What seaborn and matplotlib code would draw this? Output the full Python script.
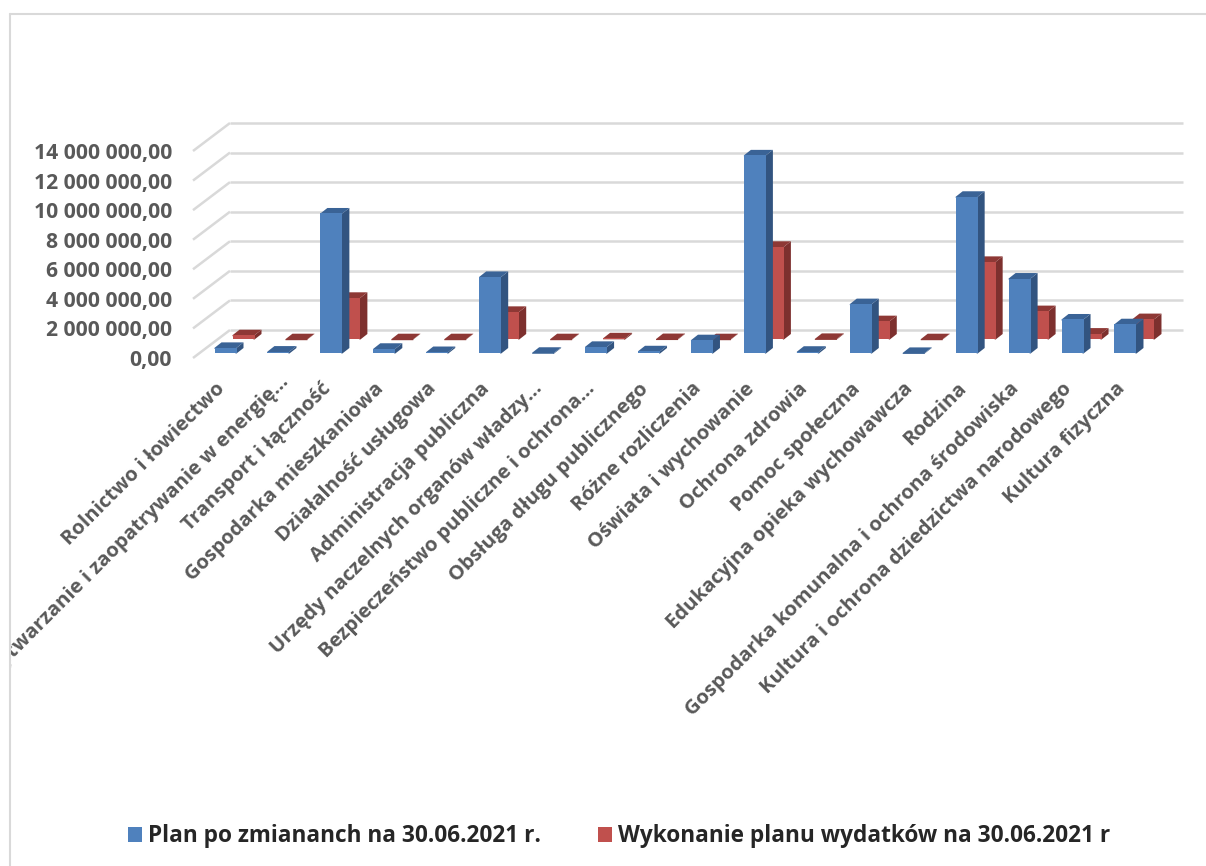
import numpy as np
import pandas as pd
import matplotlib
matplotlib.use("Agg")
import matplotlib.pyplot as plt
from matplotlib.lines import Line2D
from matplotlib.patches import Patch, Polygon
from matplotlib.transforms import Bbox, ScaledTranslation
import seaborn as sns

categories = [
    "Rolnictwo i łowiectwo",
    "Wytwarzanie i zaopatrywanie w energię…",
    "Transport i łączność",
    "Gospodarka mieszkaniowa",
    "Działalność usługowa",
    "Administracja publiczna",
    "Urzędy naczelnych organów władzy…",
    "Bezpieczeństwo publiczne i ochrona…",
    "Obsługa długu publicznego",
    "Różne rozliczenia",
    "Oświata i wychowanie",
    "Ochrona zdrowia",
    "Pomoc społeczna",
    "Edukacyjna opieka wychowawcza",
    "Rodzina",
    "Gospodarka komunalna i ochrona środowiska",
    "Kultura i ochrona dziedzictwa narodowego",
    "Kultura fizyczna",
]
plan = [380000, 130000, 9470000, 320000, 100000, 5180000, 50000, 450000, 150000,
        900000, 13400000, 120000, 3340000, 40000, 10600000, 5070000, 2300000, 1980000]
wykonanie = [290000, 20000, 2820000, 20000, 20000, 1870000, 20000, 80000, 30000,
             20000, 6270000, 40000, 1240000, 20000, 5250000, 1920000, 400000, 1380000]
series_names = ["Plan po zmiananch na 30.06.2021 r.",
                "Wykonanie planu wydatków na 30.06.2021 r"]
tick_values = [0, 2000000, 4000000, 6000000, 8000000, 10000000, 12000000, 14000000]
tick_labels = ["0,00", "2 000 000,00", "4 000 000,00", "6 000 000,00", "8 000 000,00",
               "10 000 000,00", "12 000 000,00", "14 000 000,00"]

W, H = 1206, 866
PX_X = 52.94            # pixels per category
PX_Y = 29.57 / 2e6      # pixels per value unit
sns.set_theme(style="white")
plt.rcParams["font.family"] = ["Open Sans", "DejaVu Sans"]

fig = plt.figure(figsize=(W / 100, H / 100), dpi=100, facecolor="white")
L, R, T, B = 193, 1183, 123, 358
ax = fig.add_axes([L / W, 1 - B / H, (R - L) / W, (B - T) / H])
ax.patch.set_alpha(0)

pos = np.arange(len(categories), dtype=float)
first_center = 225.5
red_shift = 18 / PX_X
blue_base = 4.5 / PX_Y
red_base = 18.5 / PX_Y
bar_w = 22 / PX_X
dx_bar, dy_bar = 7 / PX_X, 5.5 / PX_Y
dx_wall, dy_wall = 37 / PX_X, 28 / PX_Y
seam_x, seam_y = 1 / PX_X, 1 / PX_Y

x0 = (L - first_center) / PX_X
x1 = (R - first_center) / PX_X

df = pd.DataFrame({"x": pos, "plan": plan, "wyk": wykonanie})
df["x_red"] = df["x"] + red_shift


def extrude(patches, side, top, z):
    for k, p in enumerate(patches):
        xa, xb = p.get_x(), p.get_x() + p.get_width()
        ya, yb = p.get_y(), p.get_y() + p.get_height()
        base = z + k * 0.01
        p.set_zorder(base + 0.002)
        # side and top run slightly under the front face so no seam shows
        ax.add_patch(Polygon([(xb - seam_x, ya), (xb, ya), (xb + dx_bar, ya + dy_bar),
                              (xb + dx_bar, yb + dy_bar), (xb, yb), (xb - seam_x, yb)],
                             closed=True, fc=side, ec="none", zorder=base))
        ax.add_patch(Polygon([(xa, yb - seam_y), (xb, yb - seam_y), (xb, yb), (xb + dx_bar, yb + dy_bar),
                              (xa + dx_bar, yb + dy_bar), (xa, yb)],
                             closed=True, fc=top, ec="none", zorder=base + 0.001))


n0 = len(ax.patches)
sns.barplot(data=df, x="x_red", y="wyk", native_scale=True, width=bar_w, color="#C0504D",
            saturation=1, bottom=red_base, linewidth=0, ax=ax)
red_patches = list(ax.patches[n0:])
extrude(red_patches, "#7D302E", "#8E3835", 2)

n0 = len(ax.patches)
sns.barplot(data=df, x="x", y="plan", native_scale=True, width=bar_w, color="#4F81BD",
            saturation=1, bottom=blue_base, linewidth=0, ax=ax)
blue_patches = [p for p in ax.patches[n0:] if p not in red_patches and not isinstance(p, Polygon)]
extrude(blue_patches, "#325480", "#3A6396", 3)

ax.set_xlim(x0, x1)
ax.set_ylim(0, 14e6 + dy_wall)
ax.set_xlabel("")
ax.set_ylabel("")
sns.despine(ax=ax, left=True, bottom=True, top=True, right=True)

grid = "#D9D9D9"
for v in tick_values:
    ax.plot([x0 + dx_wall, x1], [v + dy_wall, v + dy_wall], color=grid, lw=1.8, zorder=1, clip_on=False,
            solid_capstyle="butt")
    ax.plot([x0, x0 + dx_wall], [v, v + dy_wall], color=grid, lw=1.8, zorder=1, clip_on=False,
            solid_capstyle="butt")

ax.set_yticks(tick_values)
ax.set_yticklabels(tick_labels, fontsize=15.2, fontweight="bold", color="#595959")
ax.tick_params(axis="y", length=0, pad=15)

ax.set_xticks(pos - 0.2)
ax.set_xticklabels(categories, rotation=45, ha="right", rotation_mode="anchor",
                   fontsize=14.6, fontweight="bold", color="#595959")
ax.tick_params(axis="x", length=0, pad=15)
clip = Bbox([[11, 0], [W, H]])
for lab in ax.get_xticklabels():
    lab.set_clip_box(clip)
    lab.set_clip_on(True)
# the second label sits further along its slant, as in the source chart
second = ax.get_xticklabels()[1]
second.set_transform(second.get_transform() + ScaledTranslation(0.11, 0.07, fig.dpi_scale_trans))

# chart frame
fig.add_artist(Line2D([10 / W, 10 / W], [0, 1 - 14 / H], color=grid, lw=1.5))
fig.add_artist(Line2D([10 / W, 1], [1 - 14 / H, 1 - 14 / H], color=grid, lw=1.5))

handles = [Patch(fc="#4F81BD", ec="none"), Patch(fc="#C0504D", ec="none")]
leg = fig.legend(handles, series_names, loc="center left", bbox_to_anchor=(128 / W, 1 - 836.5 / H),
                 ncols=2, frameon=False, borderpad=0, borderaxespad=0, handlelength=0.62, handleheight=0.62,
                 handletextpad=0.25, columnspacing=2.55,
                 prop={"size": 16.3, "weight": "bold"}, labelcolor="#262626")

fig.savefig("out.png", dpi=100)
